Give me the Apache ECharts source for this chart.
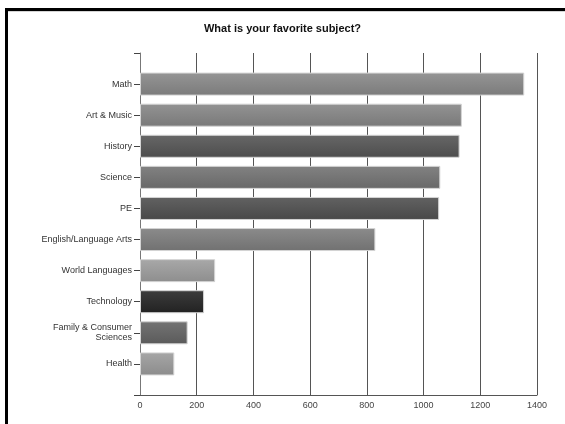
<!DOCTYPE html>
<html>
<head>
<meta charset="utf-8">
<script src="https://cdn.jsdelivr.net/npm/echarts@6/dist/echarts.min.js"></script>
<style>
  html, body { margin: 0; padding: 0; background: #fff; }
  #chart { width: 565px; height: 424px; }
</style>
</head>
<body>
<div id="chart"></div>
<script>
// Survey: favorite school subject
const categories = [
  'Math', 'Art & Music', 'History', 'Science', 'PE',
  'English/Language Arts', 'World Languages', 'Technology',
  'Family & Consumer\nSciences', 'Health'
];
const counts = [1355, 1135, 1127, 1059, 1055, 830, 265, 226, 168, 121];
const barColors = [
  '#878787', '#858585', '#595959', '#747474', '#545454',
  '#7d7d7d', '#9a9a9a', '#2e2e2e', '#666666', '#989898'
];
const xTicks = { min: 0, max: 1400, step: 200 };

function shade(hex, amt) {
  const n = parseInt(hex.slice(1), 16);
  const c = [(n >> 16) & 255, (n >> 8) & 255, n & 255].map(v => Math.max(0, Math.min(255, v + amt)));
  return 'rgb(' + c.join(',') + ')';
}

// half-step padding above the first and below the last category
const axisCats = [''].concat(categories, ['']);
const barData = [null].concat(counts.map((v, i) => ({
  value: v,
  itemStyle: {
    color: new echarts.graphic.LinearGradient(0, 0, 0, 1, [
      { offset: 0, color: shade(barColors[i], 14) },
      { offset: 1, color: shade(barColors[i], -12) }
    ]),
    borderColor: '#d4d4d4',
    borderWidth: 1
  }
})), [null]);

const chart = echarts.init(document.getElementById('chart'), null, { renderer: 'canvas' });
chart.setOption({
  animation: false,
  backgroundColor: '#fff',
  textStyle: { fontFamily: 'Liberation Sans, Arial, sans-serif' },
  title: {
    text: 'What is your favorite subject?',
    left: 'center',
    top: 18,
    textStyle: { fontSize: 11, fontWeight: 'bold', color: '#111', fontFamily: 'Liberation Sans, Arial, sans-serif' }
  },
  grid: { left: 140, right: 28, top: 53, bottom: 29, containLabel: false },
  xAxis: {
    type: 'value',
    min: xTicks.min,
    max: xTicks.max,
    interval: xTicks.step,
    axisLine: { show: true, lineStyle: { color: '#555', width: 1 } },
    axisTick: { show: false },
    axisLabel: { color: '#444', fontSize: 9, margin: 6, formatter: v => String(v) },
    splitLine: { show: true, lineStyle: { color: '#555', width: 1 } }
  },
  yAxis: {
    type: 'category',
    data: axisCats,
    inverse: true,
    boundaryGap: false,
    axisLine: { show: true, lineStyle: { color: '#777', width: 1 } },
    axisTick: { show: true, length: 6, alignWithLabel: true, lineStyle: { color: '#444' } },
    axisLabel: { color: '#333', fontSize: 9, margin: 8, interval: 0, lineHeight: 10 },
    splitLine: { show: false }
  },
  series: [{
    type: 'bar',
    data: barData,
    barWidth: 23
  }],
  graphic: [
    { type: 'rect', shape: { x: 7, y: 10.5, width: 560, height: 1 }, style: { fill: '#aaa' }, silent: true },
    { type: 'rect', shape: { x: 5, y: 8, width: 562, height: 3 }, style: { fill: '#000' }, silent: true },
    { type: 'rect', shape: { x: 5, y: 8, width: 3, height: 420 }, style: { fill: '#000' }, silent: true }
  ]
});
</script>
</body>
</html>
